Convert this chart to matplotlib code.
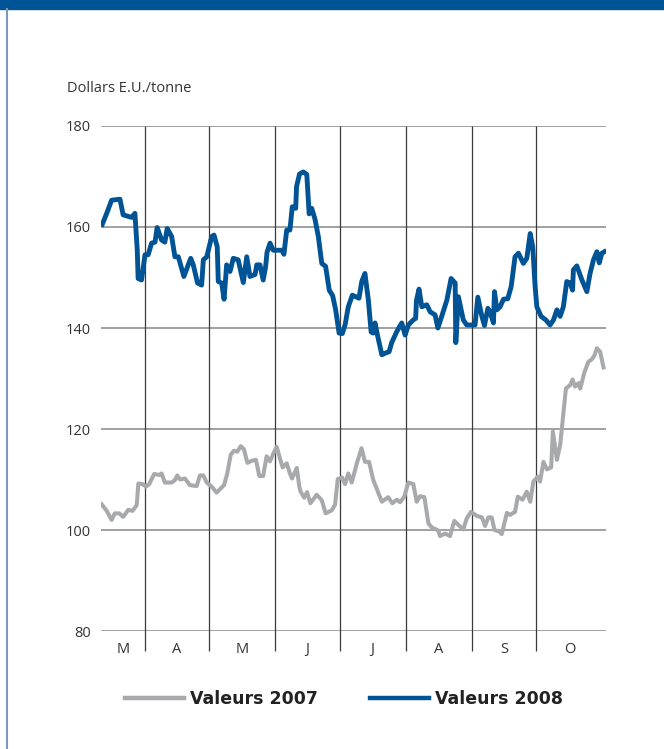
import matplotlib
matplotlib.use("Agg")
import matplotlib.pyplot as plt
from matplotlib.lines import Line2D
from matplotlib.patches import Rectangle

# x = days since 1 March, y = dollars E.U./tonne
days_2008 = [11.0, 13.1, 15.4, 19.3, 20.8, 24.8, 26.3, 27.4, 27.8, 29.4, 31.0, 32.5,
             34.1, 35.7, 36.7, 38.8, 40.3, 41.4, 43.5, 45.0, 46.6, 49.2, 52.4, 53.6,
             55.6, 57.5, 58.3, 59.9, 62.2, 63.3, 64.8, 65.3, 66.9, 68.0, 69.2, 70.8,
             72.3, 74.6, 77.0, 78.6, 80.1, 82.5, 83.3, 84.8, 86.3, 87.4, 88.1, 89.5,
             91.0, 95.0, 96.0, 97.3, 98.8, 99.9, 101.5, 101.9, 103.3, 105.1, 106.7,
             107.8, 109.0, 110.5, 112.1, 113.7, 115.5, 117.2, 118.8, 120.2, 121.8,
             123.3, 124.6, 126.1, 128.0, 131.1, 132.4, 133.9, 135.5, 136.8, 137.8,
             138.6, 139.9, 141.8, 143.3, 145.2, 146.4, 148.8, 151.1, 152.7, 154.2,
             156.5, 157.6, 158.0, 159.2, 160.5, 162.8, 164.4, 166.7, 168.0, 169.8,
             172.2, 174.2, 176.1, 176.4, 177.6, 179.9, 181.5, 185.4, 186.7, 188.6,
             189.8, 191.4, 192.4, 194.0, 194.5, 195.6, 197.1, 198.7, 200.7, 202.3,
             204.1, 205.7, 208.0, 209.6, 211.2, 212.4, 213.5, 214.3, 216.3, 218.5,
             220.5, 222.1, 223.7, 225.2, 226.7, 228.3, 229.9, 231.0, 231.4, 233.0,
             235.4, 237.7, 239.2, 240.8, 242.4, 243.5, 244.7, 245.9]
vals_2008 = [160.5, 162.7, 165.3, 165.5, 162.4, 161.9, 162.7, 155.4, 149.8, 149.5, 154.5, 154.5,
             156.8, 157.0, 159.9, 157.4, 157.0, 159.7, 158.1, 154.1, 154.1, 150.2, 153.8, 152.5,
             148.9, 148.5, 153.5, 154.1, 158.1, 158.4, 156.1, 149.2, 148.9, 145.7, 152.5, 151.2,
             153.8, 153.5, 149.0, 154.1, 150.2, 150.6, 152.5, 152.5, 149.5, 152.0, 155.0, 156.8,
             155.4, 155.4, 154.6, 159.4, 159.4, 164.0, 163.7, 168.0, 170.5, 170.9, 170.4,
             162.6, 163.7, 161.6, 158.1, 152.8, 152.2, 147.5, 146.4, 143.6, 139.0,
             138.9, 140.6, 144.2, 146.5, 145.9, 149.2, 150.8, 145.5, 139.2, 139.0,
             141.0, 138.3, 134.7, 135.0, 135.3, 137.1, 139.3, 141.0, 138.6, 140.6,
             141.6, 141.9, 145.5, 147.7, 144.2, 144.6, 143.2, 142.6, 140.0, 142.3,
             145.5, 149.8, 148.9, 137.1, 146.2, 141.6, 140.6, 140.6, 146.1, 142.3,
             140.5, 143.9, 143.2, 141.0, 147.2, 143.6, 144.2, 145.7, 145.8, 148.2,
             154.1, 154.8, 152.8, 153.8, 158.7, 156.0, 148.2, 144.2, 142.3, 141.6,
             140.6, 141.6, 143.6, 142.3, 144.2, 149.2, 148.9, 147.5, 151.5, 152.3,
             149.5, 147.2, 150.8, 153.5, 155.1, 152.9, 154.8, 155.1]

days_2007 = [10.7, 13.1, 15.4, 16.9, 19.0, 20.8, 23.2, 25.2, 27.1, 27.4, 27.9, 29.9,
             31.4, 33.0, 35.3, 37.7, 38.8, 40.3, 43.5, 45.0, 46.1, 47.4, 49.7, 52.0,
             55.2, 56.7, 58.3, 59.9, 62.2, 64.5, 66.1, 68.0, 69.5, 71.1, 72.6, 74.2,
             75.8, 77.3, 78.9, 80.9, 82.9, 84.5, 86.3, 87.9, 89.5, 91.0, 92.6, 94.4,
             95.4, 97.3, 98.8, 99.8, 102.0, 103.2, 103.8, 105.5, 106.8, 108.4, 110.5,
             111.3, 113.7, 115.5, 118.4, 119.9, 121.2, 123.2, 124.6, 126.1, 127.7,
             130.1, 132.3, 133.9, 135.8, 137.8, 139.4, 141.8, 144.8, 146.7, 148.8,
             150.3, 152.3, 154.2, 156.5, 158.1, 159.7, 161.7, 163.6, 165.2, 168.2,
             169.0, 171.4, 173.7, 175.7, 177.6, 179.9, 181.5, 183.5, 186.2, 188.6,
             190.1, 191.6, 193.2, 194.5, 196.7, 197.9, 200.3, 201.8, 204.1, 205.4,
             207.6, 209.6, 211.2, 212.7, 214.8, 215.8, 217.4, 219.0, 221.0, 221.8,
             223.7, 225.2, 226.7, 227.9, 229.9, 231.0, 232.2, 233.8, 234.6, 236.6,
             238.4, 240.0, 241.2, 242.4, 243.9, 245.5]
vals_2007 = [105.1, 103.8, 102.0, 103.3, 103.3, 102.6, 104.0, 103.8, 104.9, 106.3, 109.2, 109.1,
             108.6, 109.1, 111.1, 110.9, 111.2, 109.4, 109.4, 109.9, 110.8, 110.0, 110.2, 108.9,
             108.7, 110.8, 110.8, 109.4, 108.6, 107.4, 108.1, 108.9, 111.2, 114.9, 115.7, 115.5,
             116.6, 116.0, 113.3, 113.7, 113.9, 110.7, 110.7, 114.6, 113.6, 115.1, 116.5, 113.8,
             112.4, 113.2, 111.2, 110.2, 112.3, 108.6, 107.6, 106.4, 107.5, 105.3, 106.5,
             107.0, 105.9, 103.3, 103.9, 105.0, 110.1, 110.4, 109.1, 111.2, 109.4,
             113.2, 116.2, 113.5, 113.5, 109.9, 108.2, 105.6, 106.5, 105.3, 106.0,
             105.5, 106.6, 109.4, 109.1, 105.6, 106.7, 106.5, 101.3, 100.5, 99.9,
             98.8, 99.3, 98.8, 101.8, 101.0, 100.1, 102.3, 103.6, 102.8, 102.5,
             100.8, 102.5, 102.5, 100.0, 99.7, 99.2, 103.4, 103.0, 103.6, 106.6,
             106.0, 107.6, 105.6, 109.6, 110.6, 109.6, 113.5, 112.0, 112.4, 119.5,
             113.9, 116.8, 123.1, 128.0, 128.7, 129.8, 128.4, 129.1, 128.0, 131.3,
             133.3, 133.8, 134.5, 136.0, 135.3, 132.2]

month_starts = [31, 61, 92, 122, 153, 184, 214]
month_labels = ["M", "A", "M", "J", "J", "A", "S", "O"]
month_label_pos = [20.7, 46, 76.5, 107, 137.5, 168.5, 199, 229.5]
y_ticks = [80, 100, 120, 140, 160, 180]

BLUE = "#005495"
GREY = "#a7a9ac"
TEXT = "#333333"

fig = plt.figure(figsize=(6.64, 7.49), dpi=100)
ax = fig.add_axes([0.152, 0.1575, 0.7608, 0.6743])

# frame decorations
fig.patches.append(Rectangle((0, 0.988), 1, 0.012, transform=fig.transFigure,
                             color=BLUE, zorder=0))
fig.add_artist(Line2D([0.011, 0.011], [0, 0.988], transform=fig.transFigure,
                      color="#7d97b5", lw=1.5))

ax.set_xlim(10.4, 246.7)
ax.set_ylim(80, 180)
for s in ax.spines.values():
    s.set_visible(False)

for y in y_ticks:
    ax.axhline(y, color="#9a9a9a", lw=1.3, zorder=1)
ax.vlines(month_starts, 76, 180, color="#3a3a3a", lw=0.9, zorder=1, clip_on=False)

ax.plot(days_2007, vals_2007, color=GREY, lw=2.9, solid_joinstyle="round", zorder=3)
ax.plot(days_2008, vals_2008, color=BLUE, lw=3.5, solid_joinstyle="round", zorder=4)

ax.set_yticks(y_ticks)
ax.set_yticklabels([str(v) for v in y_ticks], fontsize=10.5, color=TEXT, family="Open Sans")
ax.tick_params(axis="y", length=0, pad=7)
ax.set_xticks(month_label_pos)
ax.set_xticklabels(month_labels, fontsize=10.5, color=TEXT, family="Open Sans")
ax.tick_params(axis="x", length=0, pad=8)

fig.text(0.101, 0.882, "Dollars E.U./tonne", fontsize=10.5, color=TEXT,
         family="Open Sans", va="center", ha="left")

handles = [Line2D([], [], color=GREY, lw=3.2), Line2D([], [], color=BLUE, lw=3.2)]
fig.legend(handles, ["Valeurs 2007", "Valeurs 2008"], loc="center",
           bbox_to_anchor=(0.518, 0.067), ncol=2, frameon=False,
           handlelength=3.4, handletextpad=0.35, columnspacing=3.0,
           prop={"family": "DejaVu Sans", "weight": "bold", "size": 12.5})
for t in fig.legends[0].get_texts():
    t.set_color("#222222")

fig.savefig("out.png", dpi=100)
